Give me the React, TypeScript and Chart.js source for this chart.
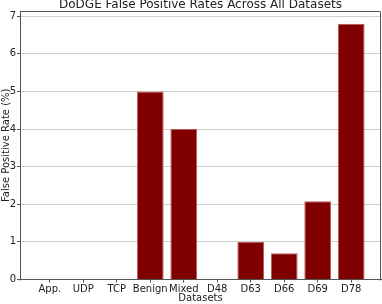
import React, { useEffect, useRef } from "react";
import { Chart, registerables } from "chart.js";

Chart.register(...registerables);

const categories = ["App.", "UDP", "TCP", "Benign", "Mixed", "D48", "D63", "D66", "D69", "D78"];
const fprValues = [0, 0, 0, 5.0, 4.0, 0, 1.0, 0.7, 2.08, 6.8];
const yTicks = [0, 1, 2, 3, 4, 5, 6, 7];

const FONT = "'DejaVu Sans', sans-serif";

const boxPlugin = {
  id: "axesBox",
  afterDraw(chart: any) {
    const { ctx, chartArea } = chart;
    ctx.save();
    ctx.strokeStyle = "#555555";
    ctx.lineWidth = 1;
    const l = Math.round(chartArea.left) + 0.5;
    const t = Math.round(chartArea.top) + 0.5;
    const r = Math.round(chartArea.right) - 0.5;
    const b = Math.round(chartArea.bottom) + 0.5;
    ctx.beginPath();
    ctx.moveTo(l, b);
    ctx.lineTo(l, t);
    ctx.lineTo(r, t);
    ctx.lineTo(r, b);
    ctx.stroke();
    ctx.restore();
  },
};

export default function App() {
  const ref = useRef<HTMLCanvasElement | null>(null);

  useEffect(() => {
    document.body.style.margin = "0";
    const canvas = ref.current;
    if (!canvas) return;
    const chart = new Chart(canvas, {
      type: "bar",
      data: {
        datasets: [
          {
            data: fprValues.map((v, i) => ({ x: i, y: v })),
            backgroundColor: "#800000",
            borderColor: "#b85a5a",
            borderWidth: 1,
            categoryPercentage: 0.8,
            barPercentage: 1.0,
          },
        ],
      },
      options: {
        responsive: false,
        animation: false,
        devicePixelRatio: 1,
        layout: { padding: { left: 0, right: 1, top: 0, bottom: 0 } },
        plugins: {
          legend: { display: false },
          tooltip: { enabled: false },
          title: {
            display: true,
            text: "DoDGE False Positive Rates Across All Datasets",
            fullSize: false,
            color: "#222222",
            font: { family: FONT, size: 12, weight: "normal", lineHeight: 1.0 },
            padding: { top: -1, bottom: 0 },
          },
        },
        scales: {
          x: {
            type: "linear",
            min: -0.89,
            max: 9.89,
            offset: false,
            afterBuildTicks: (scale: any) => {
              scale.ticks = categories.map((_, i) => ({ value: i }));
            },
            afterFit: (scale: any) => {
              scale.height = 24.5;
            },
            ticks: {
              autoSkip: false,
              maxRotation: 0,
              padding: 1,
              color: "#222222",
              font: { family: FONT, size: 10 },
              callback: (v: any) => categories[Math.round(Number(v))] ?? "",
            },
            grid: {
              offset: false,
              drawOnChartArea: false,
              drawTicks: true,
              tickLength: 3,
              tickColor: "#555555",
            },
            border: { display: true, color: "#555555" },
            title: {
              display: true,
              text: "Datasets",
              color: "#222222",
              font: { family: FONT, size: 10, lineHeight: 1.2 },
              padding: { top: 0, bottom: 0 },
            },
          },
          y: {
            type: "linear",
            min: 0,
            max: 7.14,
            z: 1,
            afterBuildTicks: (scale: any) => {
              scale.ticks = yTicks.map((v) => ({ value: v }));
            },
            afterFit: (scale: any) => {
              scale.width = 20;
            },
            ticks: {
              padding: 1,
              color: "#222222",
              font: { family: FONT, size: 10 },
            },
            grid: {
              color: "rgba(160,160,160,0.5)",
              lineWidth: 1,
              drawTicks: true,
              tickLength: 3,
              tickColor: "#555555",
            },
            border: { display: true, color: "#555555" },
            title: {
              display: true,
              text: "False Positive Rate (%)",
              color: "#222222",
              font: { family: FONT, size: 10, lineHeight: 1.2 },
              padding: { top: 0, bottom: 0 },
            },
          },
        },
      },
      plugins: [boxPlugin],
    } as any);
    return () => chart.destroy();
  }, []);

  return (
    <div style={{ position: "absolute", left: 0, top: 0, width: 382, height: 304 }}>
      <canvas ref={ref} width={382} height={304} style={{ display: "block", width: 382, height: 304 }} />
    </div>
  );
}
